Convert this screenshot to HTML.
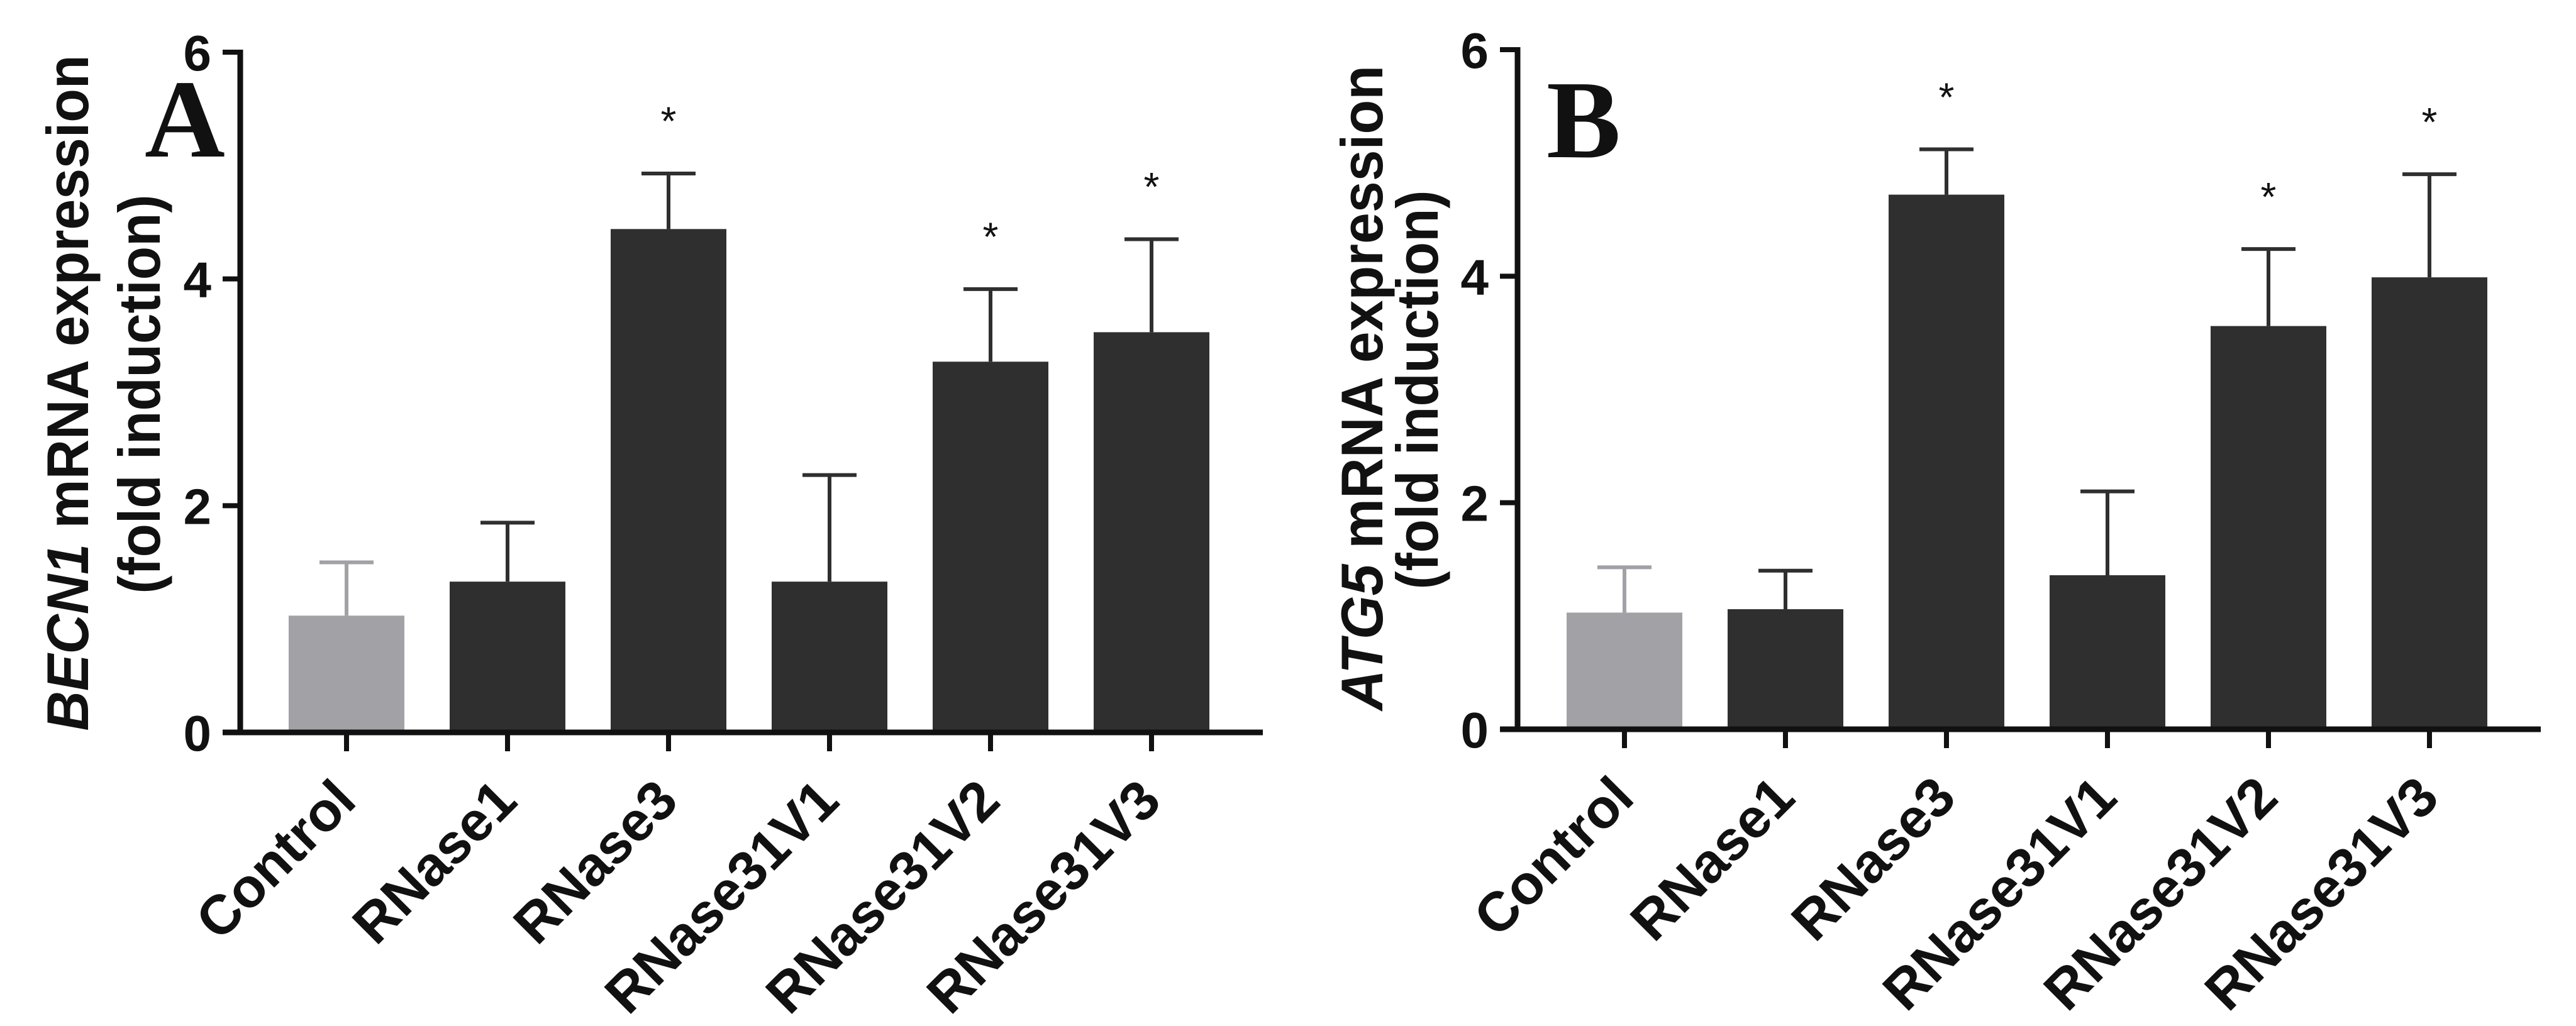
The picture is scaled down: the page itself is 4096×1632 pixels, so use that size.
<!DOCTYPE html>
<html><head><meta charset="utf-8"><style>
html,body{margin:0;padding:0;background:#fff;overflow:hidden;}
svg{display:block;}
text{font-family:"Liberation Sans",Arial,sans-serif;font-weight:bold;fill:#111;}
</style></head><body>
<svg id="fig" width="4096" height="1632" viewBox="0 0 4096 1632" xmlns="http://www.w3.org/2000/svg"></svg>
<script>
const categories = ["Control","RNase1","RNase3","RNase31V1","RNase31V2","RNase31V3"];
const valuesA = [1.03, 1.33, 4.44, 1.33, 3.27, 3.53];
const errorsA = [0.47, 0.52, 0.49, 0.94, 0.64, 0.82];
const signifA = [false, false, true, false, true, true];
const valuesB = [1.03, 1.06, 4.72, 1.36, 3.56, 3.99];
const errorsB = [0.40, 0.34, 0.40, 0.74, 0.68, 0.91];
const signifB = [false, false, true, false, true, true];
const yTicks = [0, 2, 4, 6];

const NS = "http://www.w3.org/2000/svg";
const svg = document.getElementById("fig");
function mk(tag, attrs, parent, txt) {
  const e = document.createElementNS(NS, tag);
  for (const k in attrs) e.setAttribute(k, attrs[k]);
  if (txt !== undefined) e.textContent = txt;
  (parent || svg).appendChild(e);
  return e;
}

function panel(opt) {
  const g = mk("g", {});
  
  
  const y0 = opt.y0, y6 = opt.y6;
  const yScale = v => y0 - (v / 6) * (y0 - y6);
  const xScale = i => opt.x0c + i * opt.step;
  opt.values.forEach((v, i) => {
    const cx = xScale(i);
    const col = i === 0 ? "#a1a1a6" : "#2f2f2f";
    const top = yScale(v), etop = yScale(v + opt.errors[i]);
    const el = mk("line", {x1: cx, x2: cx, y1: top, y2: etop, stroke: col, "stroke-width": 6}, g);
    
    
    const cap = mk("line", {x1: cx - 43, x2: cx + 43, y1: etop, y2: etop, stroke: col, "stroke-width": 6}, g);
    
    
    const r = mk("rect", {x: cx - 92, y: top, width: 184, height: y0 - top, fill: col}, g);
    
    
    if (opt.signif[i]) {
      const s = mk("text", {x: cx, y: yScale(v + opt.errors[i] + 0.54) + 36, "text-anchor": "middle", "font-size": 64, style: "font-weight:normal"}, g, "*");
      
      
    }
    const t = mk("line", {x1: cx, x2: cx, y1: y0, y2: y0 + 30, stroke: "#111", "stroke-width": 8}, g);
    
    
    const lx = cx + 19, ly = y0 + 113;
    const lab = mk("text", {x: lx, y: ly, "text-anchor": "end", "font-size": 88, transform: `rotate(-45 ${lx} ${ly})`}, g, categories[i]);
    
    
  });
  const ya = mk("line", {x1: opt.ax, x2: opt.ax, y1: y6 - 4, y2: y0 + 4, stroke: "#111", "stroke-width": 9}, g);
  
  
  const xa = mk("line", {x1: opt.ax - 28, x2: opt.xEnd, y1: y0, y2: y0, stroke: "#111", "stroke-width": 9}, g);
  
  
  yTicks.forEach(v => {
    const y = yScale(v);
    const tk = mk("line", {x1: opt.ax - 28, x2: opt.ax, y1: y, y2: y, stroke: "#111", "stroke-width": 8}, g);
    
    
    const tl = mk("text", {x: opt.ax - 46, y: y + 29, "text-anchor": "end", "font-size": 80}, g, String(v));
    
    
  });
  const t1 = mk("text", {x: opt.t1x, y: opt.tcy, "text-anchor": "middle", "font-size": 94, transform: `rotate(-90 ${opt.t1x} ${opt.tcy})`, textLength: opt.t1len, lengthAdjust: "spacingAndGlyphs"}, g);
  
  
  mk("tspan", {"font-style": "italic"}, t1, opt.gene);
  mk("tspan", {}, t1, " mRNA expression");
  const t2 = mk("text", {x: opt.t2x, y: opt.tcy2, "text-anchor": "middle", "font-size": 94, transform: `rotate(-90 ${opt.t2x} ${opt.tcy2})`, textLength: opt.t2len, lengthAdjust: "spacingAndGlyphs"}, g, "(fold induction)");
  
  
  const L = mk("text", {x: opt.lx, y: opt.ly, "font-size": 177, style: "font-family:'Liberation Serif',serif;font-weight:bold"}, g, opt.letter);
  
  
}

panel({id: "panel-a", values: valuesA, errors: errorsA, signif: signifA, y0: 1165, y6: 83, ax: 382, xEnd: 2008, x0c: 551, step: 256,
  gene: "BECN1", t1x: 140, tcy: 625, t1len: 1075, t2x: 254, tcy2: 627, t2len: 635, letter: "A", lx: 230, ly: 249});
panel({id: "panel-b", values: valuesB, errors: errorsB, signif: signifB, y0: 1160, y6: 79, ax: 2413, xEnd: 4040, x0c: 2583, step: 256,
  gene: "ATG5", t1x: 2198, tcy: 617, t1len: 1026, t2x: 2286, tcy2: 620, t2len: 635, letter: "B", lx: 2459, ly: 250});
</script>
</body></html>
